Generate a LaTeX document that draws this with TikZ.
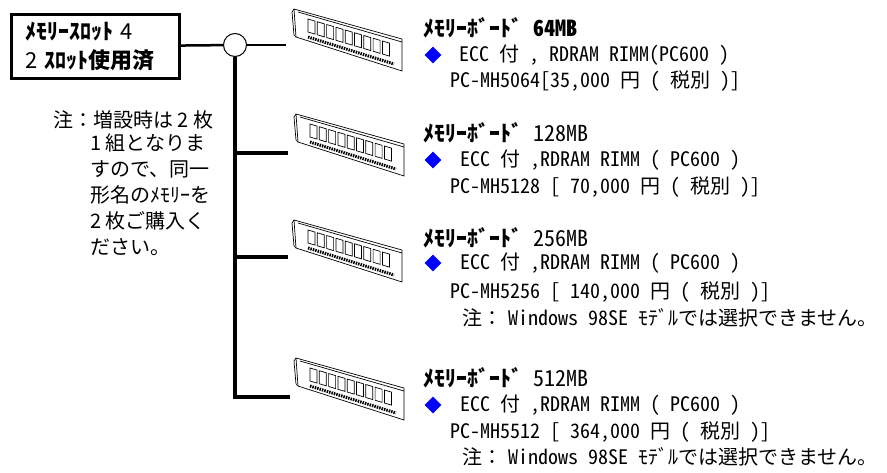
\documentclass[tikz,border=0pt]{standalone}
\usepackage{fontspec}
\setmainfont{Noto Sans CJK JP}
\newfontfamily\jpmono[RawFeature=+hwid]{Noto Sans CJK JP}
\usepackage{tikz}
\usetikzlibrary{shapes.geometric}
\newcommand{\diacol}{blue}
\newcommand{\bigtxt}{\fontsize{22}{28}\selectfont}
\newcommand{\rimm}[2]{%
  \begin{scope}[shift={(#1,#2)}, line width=0.7pt]
    \draw[fill=white] (0,0) -- (108,30) -- (108,62) -- (2,28) -- cycle;
    \draw (4,3) -- (108,33);
    \draw (0,0) -- (-2,3) -- (0,26) -- (2,28);
    \foreach \i in {0,...,8}
      \draw ({14+9.3*\i}, {10+2.75*\i}) -- ++(7,2.1) -- ++(0,13) -- ++(-7,-2.1) -- cycle;
    \draw[line width=3pt, dash pattern=on 1.5pt off 1pt] (14,28) -- (100,55);
  \end{scope}}

\begin{document}
\begin{tikzpicture}[x=1pt, y=-1pt, font=\fontsize{20}{26}\selectfont]
  \useasboundingbox (0,0) rectangle (887,472);

  % slot box and hub
  \node[draw, line width=2.8pt, align=left, anchor=north west, text width=140pt,
        inner xsep=14pt, minimum height=64pt, font=\bigtxt] (slots) at (10,13)
        {\textbf{ﾒﾓﾘｰｽﾛｯﾄ} 4\\[1pt]2 \textbf{ｽﾛｯﾄ使用済}};
  \node[circle, draw, line width=1pt, minimum size=23pt, inner sep=0] (hub) at (235,45) {};

  \coordinate (m1) at (286,45);
  \coordinate (j2) at (235,153);
  \coordinate (m2) at (288,153);
  \coordinate (j3) at (235,257);
  \coordinate (m3) at (288,257);
  \coordinate (j4) at (235,397);
  \coordinate (m4) at (290,397);

  \draw[line width=2.5pt] (slots) -- (hub);
  \draw[line width=2.5pt] (hub) -- (m1);
  \draw[line width=3.2pt] (hub) -- (j4) -- (m4);
  \draw[line width=3.2pt] (j2) -- (m2);
  \draw[line width=3.2pt] (j3) -- (m3);

  \rimm{294}{9}
  \rimm{296}{114}
  \rimm{294}{220}
  \rimm{296}{358}

  % note on the left
  \node[anchor=west, inner sep=0] (note) at (53,120) {注：増設時は 2 枚};
  \node[anchor=north west, inner sep=0, align=left] (notebody) at (90,133)
        {1 組となりま\\すので、同一\\形名のﾒﾓﾘｰを\\2 枚ご購入く\\ださい。};

  % 64MB
  \node[anchor=west, inner sep=0, font=\bigtxt] (title1) at (423,28) {\jpmono\textbf{ﾒﾓﾘｰﾎﾞｰﾄﾞ  64MB}};
  \node[diamond, fill=\diacol, inner sep=0, minimum width=17pt, minimum height=17pt] (dia1) at (433,55) {};
  \node[anchor=west, inner sep=0] (spec1) at (459,55) {\jpmono ECC 付 , RDRAM RIMM(PC600 )};
  \node[anchor=west, inner sep=0] (price1) at (450,81) {\jpmono PC-MH5064[35,000 円 ( 税別 )]};

  % 128MB
  \node[anchor=west, inner sep=0, font=\bigtxt] (title2) at (423,133) {\jpmono\textbf{ﾒﾓﾘｰﾎﾞｰﾄﾞ}  128MB};
  \node[diamond, fill=\diacol, inner sep=0, minimum width=17pt, minimum height=17pt] (dia2) at (433,160) {};
  \node[anchor=west, inner sep=0] (spec2) at (460,160) {\jpmono ECC 付 ,RDRAM RIMM ( PC600 )};
  \node[anchor=west, inner sep=0] (price2) at (450,187) {\jpmono PC-MH5128 [ 70,000 円 ( 税別 )]};

  % 256MB
  \node[anchor=west, inner sep=0, font=\bigtxt] (title3) at (423,238) {\jpmono\textbf{ﾒﾓﾘｰﾎﾞｰﾄﾞ}  256MB};
  \node[diamond, fill=\diacol, inner sep=0, minimum width=17pt, minimum height=17pt] (dia3) at (433,263) {};
  \node[anchor=west, inner sep=0] (spec3) at (460,263) {\jpmono ECC 付 ,RDRAM RIMM ( PC600 )};
  \node[anchor=west, inner sep=0] (price3) at (450,292) {\jpmono PC-MH5256 [ 140,000 円 ( 税別 )]};
  \node[anchor=west, inner sep=0] (warn3) at (462,318) {\jpmono 注{\normalfont ：}\hspace{6pt}Windows 98SE ﾓﾃﾞﾙでは選択できません。};

  % 512MB
  \node[anchor=west, inner sep=0, font=\bigtxt] (title4) at (423,378) {\jpmono\textbf{ﾒﾓﾘｰﾎﾞｰﾄﾞ}  512MB};
  \node[diamond, fill=\diacol, inner sep=0, minimum width=17pt, minimum height=17pt] (dia4) at (433,405) {};
  \node[anchor=west, inner sep=0] (spec4) at (460,405) {\jpmono ECC 付 ,RDRAM RIMM ( PC600 )};
  \node[anchor=west, inner sep=0] (price4) at (450,432) {\jpmono PC-MH5512 [ 364,000 円 ( 税別 )]};
  \node[anchor=west, inner sep=0] (warn4) at (462,457) {\jpmono 注{\normalfont ：}\hspace{6pt}Windows 98SE ﾓﾃﾞﾙでは選択できません。};
\end{tikzpicture}
\end{document}
